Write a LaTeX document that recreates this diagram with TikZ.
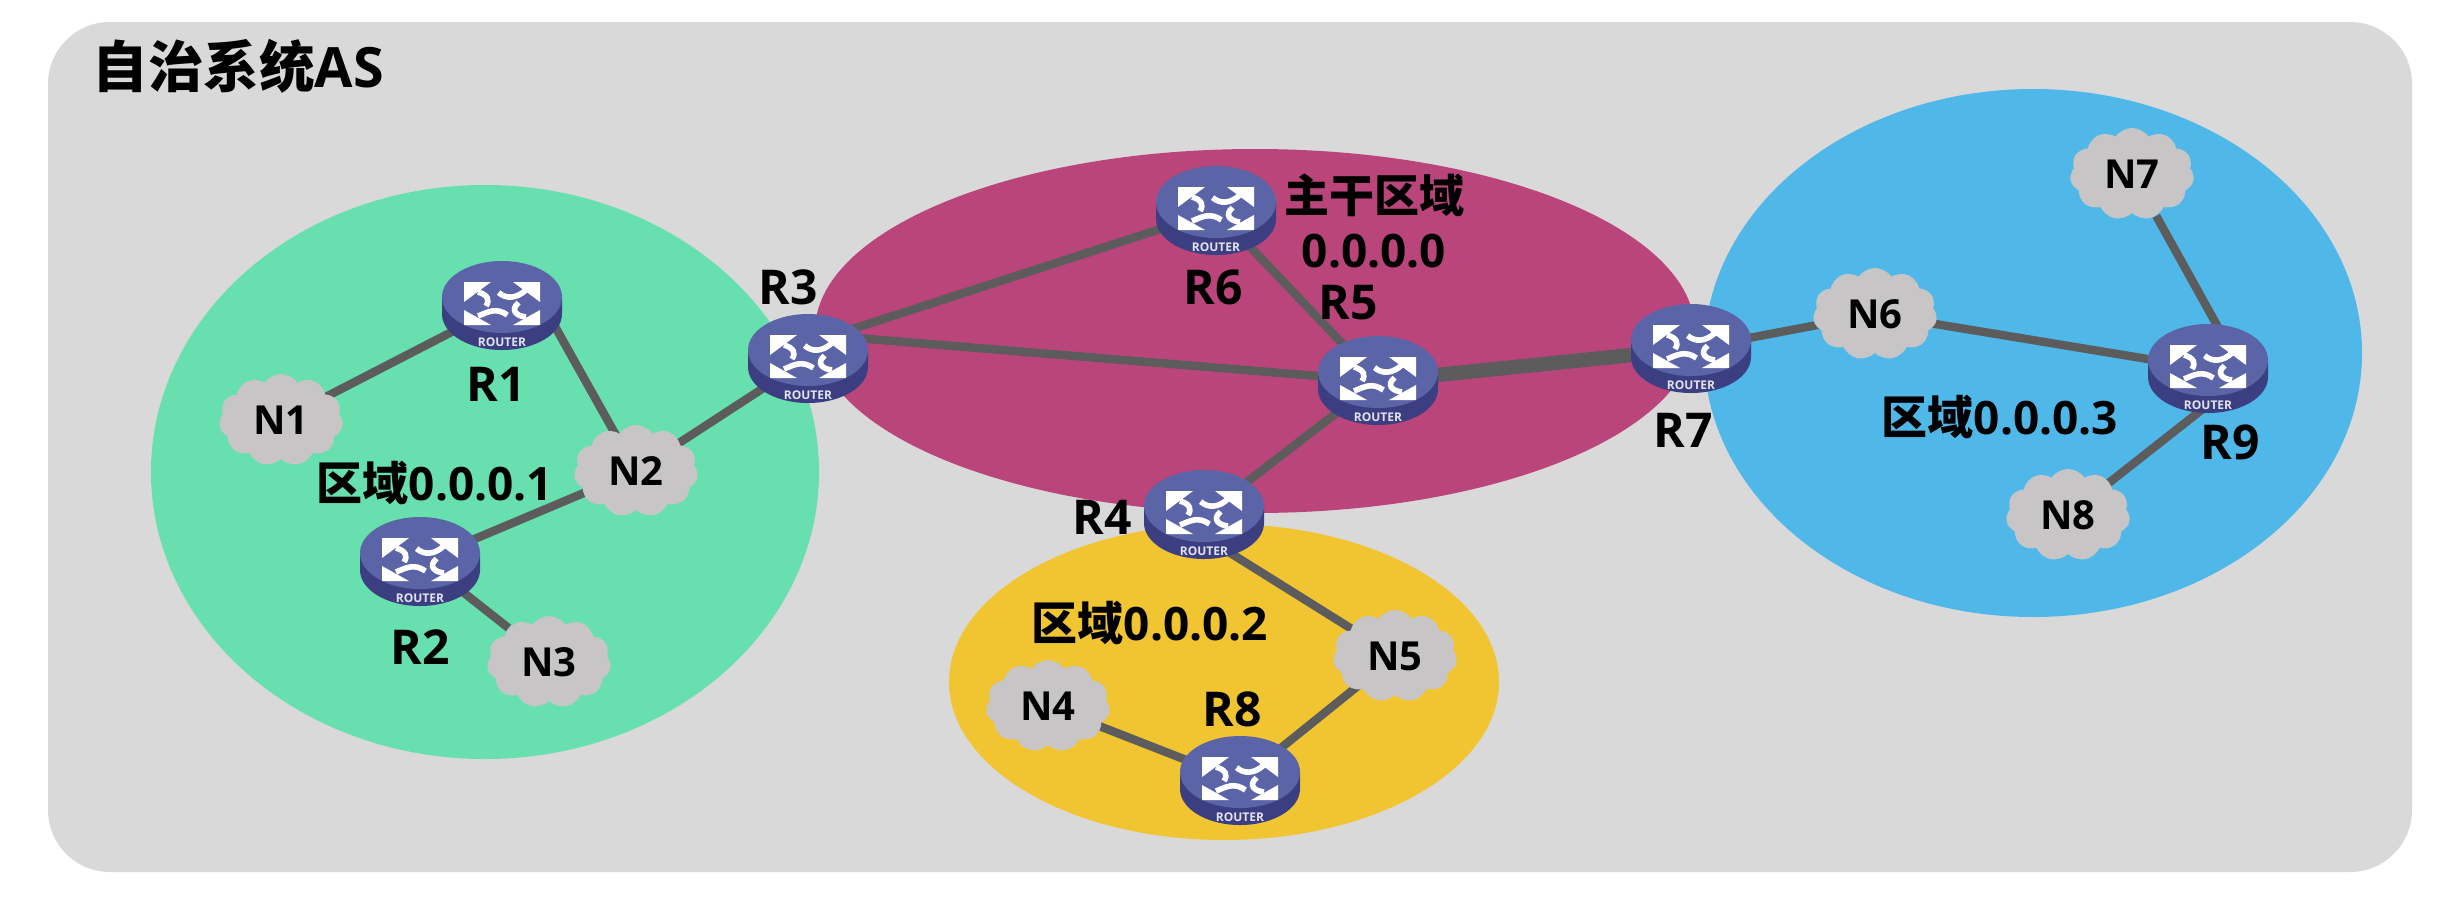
\documentclass[tikz,border=0pt]{standalone}
\usepackage{fontspec}
\setmainfont{Open Sans}
\newfontfamily\cjk{Noto Sans CJK SC}
\usetikzlibrary{shapes.symbols,backgrounds}
\definecolor{asgrey}{HTML}{D9D9D9}
\definecolor{areagreen}{HTML}{68DFAE}
\definecolor{areacrimson}{HTML}{B9457A}
\definecolor{areablue}{HTML}{50B8E8}
\definecolor{areayellow}{HTML}{F1C532}
\definecolor{cloudgrey}{HTML}{C8C5C7}
\definecolor{linkgrey}{HTML}{5C5C5C}
\definecolor{routertop}{HTML}{5C64A8}
\definecolor{routerside}{HTML}{3B3E80}
\tikzset{
  x=0.5pt,y=-0.5pt,
  routershaft/.style={white,line width=2.8pt},
  routerbox/.style={draw=none,rectangle,inner sep=0,minimum width=61pt,minimum height=45pt,
    path picture={
      \fill[routerside] (-30pt,4.5pt) -- (-30pt,-4pt) arc[start angle=180,end angle=360,x radius=30pt,y radius=18pt] -- (30pt,4.5pt) -- cycle;
      \fill[routertop] (0,4.5pt) ellipse[x radius=30pt,y radius=18pt];
      \begin{scope}[shift={(0,4.5pt)}]
      \foreach \cx/\cy/\dx/\dy in {-19/12/13.5/-10, 19/12/-13.5/-10, -19/-9.5/13.5/7.5, 19/-9.5/-13.5/7.5}
        \fill[white] (\cx pt,\cy pt) -- (\cx pt+\dx pt,\cy pt) -- (\cx pt,\cy pt+\dy pt) -- cycle;
      \draw[routershaft] (-12pt,7pt) .. controls (-7pt,5.5pt) and (-6pt,3pt) .. (-8pt,0pt);
      \draw[routershaft] (-1.7pt,6.7pt) .. controls (2pt,3.5pt) and (7pt,3.5pt) .. (12pt,8pt);
      \draw[routershaft] (-12pt,-5pt) .. controls (-7pt,-3pt) and (-3pt,-0.5pt) .. (2.7pt,-4.5pt);
      \draw[routershaft] (8.3pt,1.7pt) .. controls (4pt,-2pt) and (7pt,-5pt) .. (12pt,-5.5pt);
      \end{scope}
      \node[text=white!85!routerside,font=\fontsize{6}{7}\bfseries,inner sep=0] at (0,-18pt) {ROUTER};
    }},
  cloudbox/.style={cloud,cloud puffs=11,cloud puff arc=110,aspect=1.35,fill=cloudgrey,inner sep=0,
    minimum width=62pt,minimum height=46pt,font=\fontsize{20}{22}\bfseries},
  namelabel/.style={inner sep=0,font=\fontsize{24}{26}\bfseries},
  arealabel/.style={inner sep=0,font=\fontsize{23}{25}\bfseries},
  linkline/.style={draw=linkgrey,line width=4.2pt},
  fatlinkline/.style={draw=linkgrey,line width=7.2pt},
  underrouter/.style={shorten <=-14pt},
}
\begin{document}
\begin{tikzpicture}
\useasboundingbox (0,0) rectangle (2460,906);

% routers
\node [routerbox] (R1) at (502,306) {};
\node [routerbox] (R2) at (420,562) {};
\node [routerbox] (R3) at (808,359) {};
\node [routerbox] (R4) at (1204,515) {};
\node [routerbox] (R5) at (1378,381) {};
\node [routerbox] (R6) at (1216,211) {};
\node [routerbox] (R7) at (1691,349) {};
\node [routerbox] (R8) at (1240,781) {};
\node [routerbox] (R9) at (2208,369) {};

% networks
\node [cloudbox] (N1) at (281,420) {N1};
\node [cloudbox] (N2) at (636,471) {N2};
\node [cloudbox] (N3) at (549,662) {N3};
\node [cloudbox] (N4) at (1048,706) {N4};
\node [cloudbox] (N5) at (1395,656) {N5};
\node [cloudbox] (N6) at (1875,314) {N6};
\node [cloudbox] (N7) at (2132,174) {N7};
\node [cloudbox] (N8) at (2068,515) {N8};

% labels
\node [namelabel] (lR1) at (496,384) {R1};
\node [namelabel] (lR2) at (420,647) {R2};
\node [namelabel] (lR3) at (788,287) {R3};
\node [namelabel] (lR4) at (1102,517) {R4};
\node [namelabel] (lR5) at (1348,303) {R5};
\node [namelabel] (lR6) at (1213,287) {R6};
\node [namelabel] (lR7) at (1683,430) {R7};
\node [namelabel] (lR8) at (1232,709) {R8};
\node [namelabel] (lR9) at (2230,442) {R9};
\node [arealabel,font=\fontsize{22.5}{25}\bfseries] (a0) at (1374,195) {\cjk 主干区域};
\node [arealabel] (a0b) at (1374,251) {0.0.0.0};
\node [arealabel] (a1) at (435,483) {{\cjk 区域}0.0.0.1};
\node [arealabel] (a2) at (1150,623) {{\cjk 区域}0.0.0.2};
\node [arealabel] (a3) at (2000,417) {{\cjk 区域}0.0.0.3};
\node [namelabel,anchor=west,font=\fontsize{27.8}{30}\bfseries] (title) at (92,66) {{\cjk 自治系统}AS};

\begin{scope}[on background layer]
\fill[white] (0,0) rectangle (2460,906);
\fill[asgrey,rounded corners=31pt] (48,22) rectangle (2412,872);
\fill[areagreen] (485,472) ellipse[x radius=334,y radius=287];
\fill[areacrimson] (1255,331) ellipse[x radius=440,y radius=182];
\fill[areablue] (2033,353) ellipse[x radius=329,y radius=264];
\fill[areayellow] (1224,682) ellipse[x radius=275,y radius=158];

\draw [linkline] (R1.center) -- (N1.center);
\draw [linkline,underrouter] (R1.-30) -- (N2.center);
\draw [linkline] (R2.center) -- (N2.center);
\draw [linkline,underrouter] (R2.-36) -- (N3.140);
\draw [linkline] (R3.center) -- (N2.center);
\draw [linkline,underrouter] (R3.30) -- (R6.center);
\draw [linkline,underrouter] (R3.18) -- (R5.center);
\draw [linkline] (R6.center) -- (R5.center);
\draw [linkline] (R4.center) -- (R5.center);
\draw [fatlinkline] (R5.center) -- (R7.center);
\draw [linkline,underrouter] (R4.-50) -- (N5.center);
\draw [linkline] (R8.center) -- (N4.center);
\draw [linkline] (R8.center) -- (N5.center);
\draw [linkline] (R7.center) -- (N6.center);
\draw [linkline] (N6.center) -- (R9.center);
\draw [linkline,underrouter] (R9.80) -- (N7.-60);
\draw [linkline,underrouter] (R9.-105) -- (N8.center);
\end{scope}
\end{tikzpicture}
\end{document}
